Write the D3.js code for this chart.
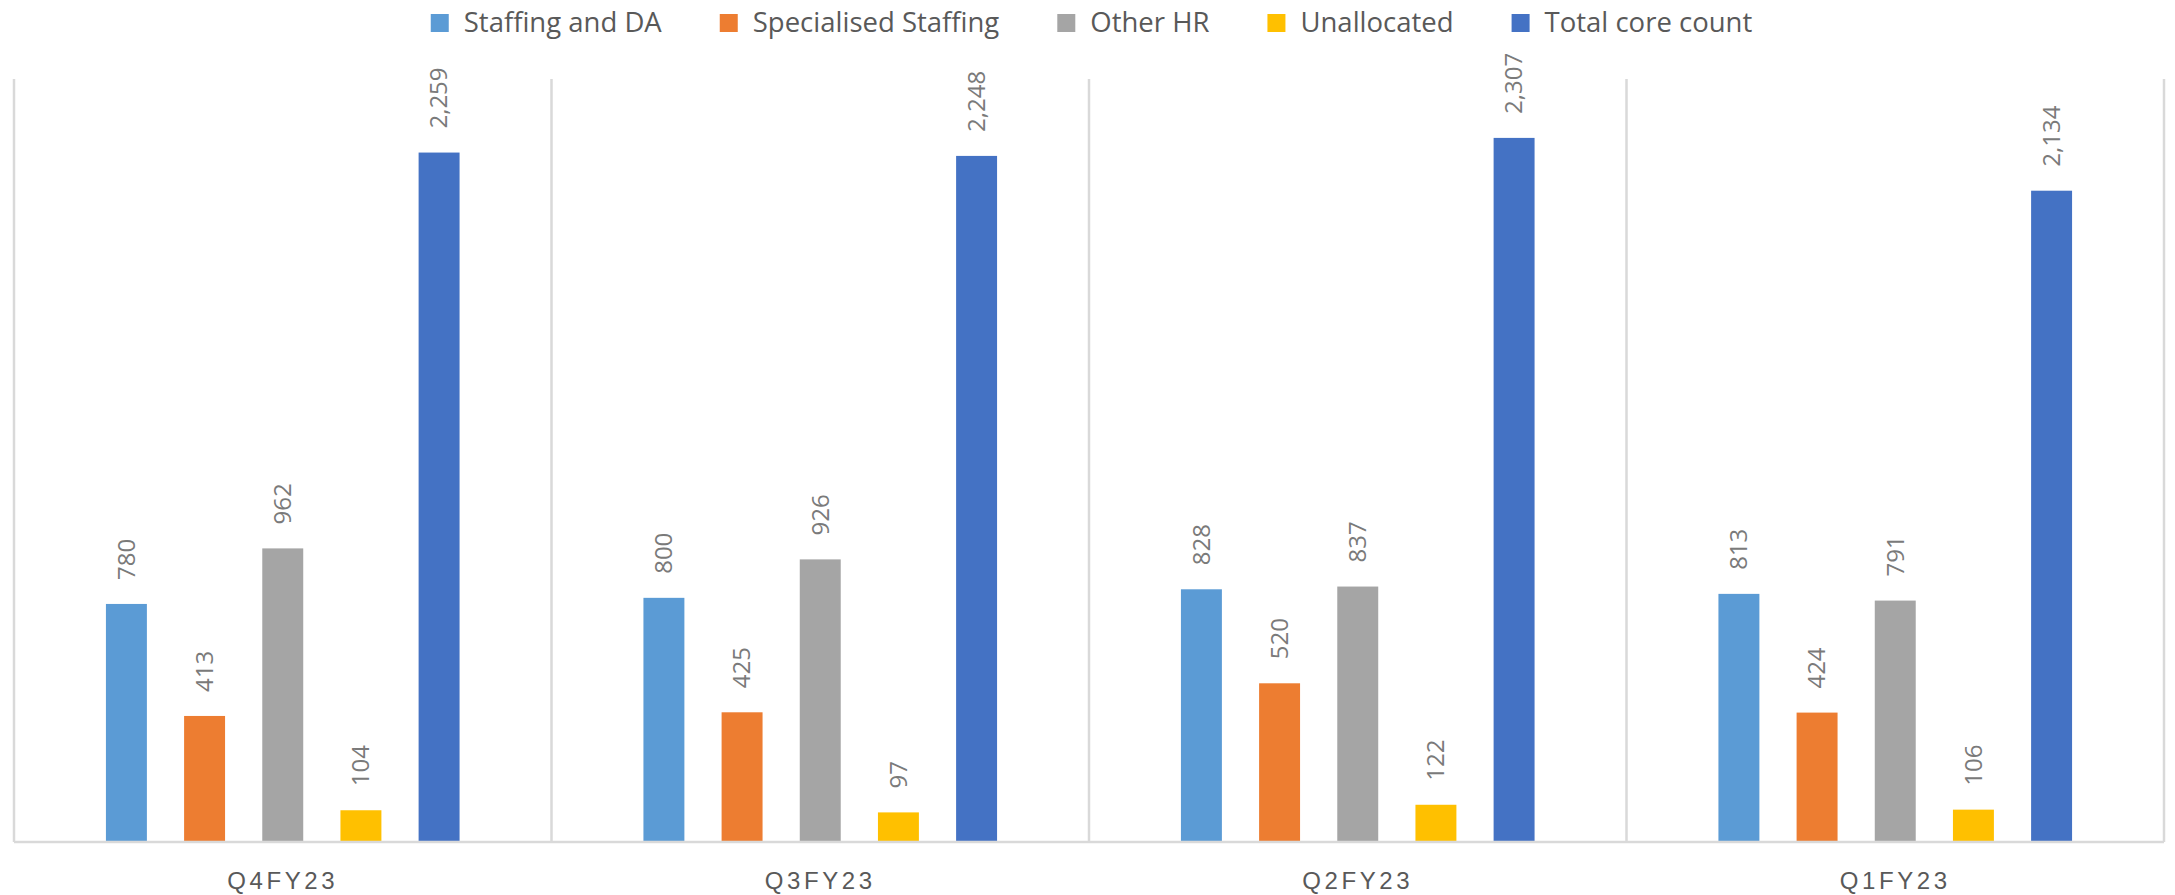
<!DOCTYPE html>
<html>
<head>
<meta charset="utf-8">
<script src="https://cdn.jsdelivr.net/npm/d3@7"></script>
<style>
    html, body { margin: 0; padding: 0; background: #fff; }
    svg { display: block; font-family: "Open Sans", sans-serif; }
    .grid-line { stroke: #d9d9d9; stroke-width: 2.5; }
    .bar-label { fill: #7a7a7a; font-size: 24px; }
    .legend-text { fill: #595959; font-size: 27.5px; }
    .cat-label { fill: #595959; font-size: 24px; letter-spacing: 3.6px; }
</style>
</head>
<body>
<div id="chart"></div>
<script>
// quarters, left to right
const quarters = ["Q4FY23", "Q3FY23", "Q2FY23", "Q1FY23"];

const seriesNames = ["Staffing and DA", "Specialised Staffing", "Other HR", "Unallocated", "Total core count"];
const seriesColors = ["#5b9bd5", "#ed7d31", "#a5a5a5", "#ffc000", "#4472c4"];

// values per series, same order as quarters
const staffingDA = [780, 800, 828, 813];
const specialisedStaffing = [413, 425, 520, 424];
const otherHR = [962, 926, 837, 791];
const unallocated = [104, 97, 122, 106];
const totalCore = [2259, 2248, 2307, 2134];

const seriesValues = [staffingDA, specialisedStaffing, otherHR, unallocated, totalCore];

const width = 2175, height = 895;
const margin = { top: 79, right: 11, bottom: 53, left: 14 };

const svg = d3.select("#chart")
    .append("svg")
    .attr("width", width)
    .attr("height", height);

// flatten into one row per bar
let data = [];
quarters.forEach((q, i) => {
    seriesNames.forEach((s, j) => {
        data.push({ quarter: q, series: s, value: seriesValues[j][i] });
    });
});

let x0 = d3.scaleBand()
    .domain(quarters)
    .range([margin.left, width - margin.right])
    .padding(0);

let x1 = d3.scaleBand()
    .domain(seriesNames)
    .range([0, x0.bandwidth()])
    .paddingInner(0.476)
    .paddingOuter(1.176);

let y = d3.scaleLinear()
    .domain([0, 2500])
    .range([height - margin.bottom, margin.top]);

let color = d3.scaleOrdinal()
    .domain(seriesNames)
    .range(seriesColors);

// vertical category dividers
let edges = quarters.map(q => x0(q)).concat([x0.range()[1]]);
svg.append("g")
    .selectAll("line")
    .data(edges)
    .join("line")
    .attr("class", "grid-line")
    .attr("x1", d => d)
    .attr("x2", d => d)
    .attr("y1", y(2500))
    .attr("y2", y(0));

// bars
let groups = svg.append("g")
    .selectAll("g")
    .data(quarters)
    .join("g")
    .attr("transform", d => `translate(${x0(d)},0)`);

groups.selectAll("rect")
    .data(q => data.filter(d => d.quarter === q))
    .join("rect")
    .attr("x", d => x1(d.series))
    .attr("y", d => y(d.value))
    .attr("width", x1.bandwidth())
    .attr("height", d => y(0) - y(d.value))
    .attr("fill", d => color(d.series));

// value labels, rotated
let fmt = d3.format(",");
groups.selectAll("text")
    .data(q => data.filter(d => d.quarter === q))
    .join("text")
    .attr("class", "bar-label")
    .attr("transform", d => `translate(${x1(d.series) + x1.bandwidth() / 2},${y(d.value) - 24}) rotate(-90)`)
    .attr("dy", "0.35em")
    .attr("text-anchor", "start")
    .text(d => fmt(d.value));

// x axis line + category labels
let xAxis = d3.axisBottom(x0).tickSize(0).tickPadding(30);
let axisG = svg.append("g")
    .attr("transform", `translate(0,${y(0)})`)
    .call(xAxis);
axisG.select(".domain").attr("class", "grid-line").attr("d", `M${x0.range()[0]},0H${x0.range()[1]}`);
axisG.selectAll(".tick text")
    .attr("class", "cat-label")
    .attr("font-family", null)
    .attr("font-size", null)
    .attr("fill", null);

// legend, centred at the top
let legend = svg.append("g");
let items = legend.selectAll("g")
    .data(seriesNames)
    .join("g");

items.append("rect")
    .attr("width", 18)
    .attr("height", 18)
    .attr("y", 14)
    .attr("fill", d => color(d));

items.append("text")
    .attr("class", "legend-text")
    .attr("x", 33)
    .attr("y", 32)
    .text(d => d);

let cursor = 0;
items.each(function () {
    let w = d3.select(this).select("text").node().getComputedTextLength();
    d3.select(this).attr("transform", `translate(${cursor},0)`);
    cursor += 33 + w + 58;
});
let legendWidth = cursor - 58;
legend.attr("transform", `translate(${(width - legendWidth) / 2 + 4},0)`);
</script>
</body>
</html>
